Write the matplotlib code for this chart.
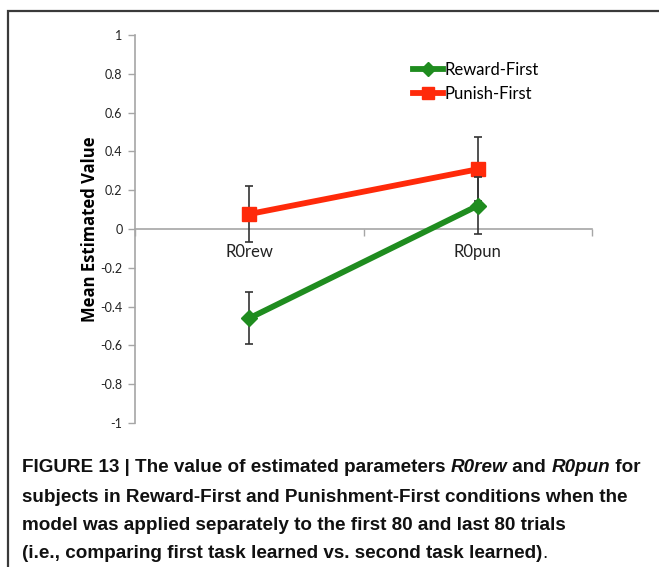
import matplotlib
matplotlib.use("Agg")
import matplotlib.pyplot as plt
from matplotlib.patches import Rectangle
from matplotlib.lines import Line2D

# parameter estimates per condition
categories = ["R0rew", "R0pun"]
reward_first = [-0.46, 0.12]
reward_first_err = [0.135, 0.146]
punish_first = [0.077, 0.308]
punish_first_err = [0.143, 0.165]
yticks = [1, 0.8, 0.6, 0.4, 0.2, 0, -0.2, -0.4, -0.6, -0.8, -1]
ytick_labels = ["1", "0.8", "0.6", "0.4", "0.2", "0", "-0.2", "-0.4", "-0.6", "-0.8", "-1"]

W, H = 659, 567
fig = plt.figure(figsize=(W / 100, H / 100), dpi=100)
ax = fig.add_axes([135 / W, 1 - 423 / H, 457 / W, 388 / H])

x = range(len(categories))
axis_gray = "#a6a6a6"
green, red = "#1f8c1f", "#ff2a0a"
ebar = dict(ecolor="#333333", elinewidth=1.2, capsize=3, capthick=1.2)

ax.errorbar(x, punish_first, yerr=punish_first_err, color=red, lw=4.2,
            marker="s", ms=10, zorder=3, **ebar)
ax.errorbar(x, reward_first, yerr=reward_first_err, color=green, lw=4.2,
            marker="D", ms=8, zorder=4, **ebar)

ax.set_xlim(-0.5, 1.5)
ax.set_ylim(-1, 1)

for s in ("top", "right"):
    ax.spines[s].set_visible(False)
ax.spines["left"].set_color(axis_gray)
ax.spines["left"].set_linewidth(1.2)
ax.spines["bottom"].set_position(("data", 0))
ax.spines["bottom"].set_color(axis_gray)
ax.spines["bottom"].set_linewidth(1.2)

ax.set_yticks(yticks)
ax.set_yticklabels(ytick_labels, fontsize=9, family="Lato", color="#222222")
ax.tick_params(axis="y", direction="out", length=5, width=1, color=axis_gray, pad=4)

ax.set_xticks(list(x))
ax.set_xticklabels(categories, fontsize=12, family="Lato", color="#222222")
ax.set_xticks([-0.5, 0.5, 1.5], minor=True)
ax.tick_params(axis="x", which="major", length=0, pad=11)
ax.tick_params(axis="x", which="minor", direction="out", length=5, width=1, color=axis_gray)

ax.set_ylabel("Mean Estimated Value", fontsize=12, fontweight="bold", family="Open Sans", labelpad=1)

handles = [Line2D([], [], color=green, lw=4.2, marker="D", ms=7),
           Line2D([], [], color=red, lw=4.2, marker="s", ms=8)]
ax.legend(handles, ["Reward-First", "Punish-First"], loc="upper left",
          bbox_to_anchor=(398 / W, 1 - 47 / H), bbox_transform=fig.transFigure,
          frameon=False, handlelength=1.8, handletextpad=0.1, labelspacing=0.5,
          prop=dict(family="Lato", size=12))

# frame round the figure panel
fig.patches.append(Rectangle((8 / W, -0.05), 1.1, 1 - 10.5 / H + 0.05, transform=fig.transFigure,
                             fill=False, edgecolor="#3a3a3a", linewidth=1.6, clip_on=False))

# caption, written piece by piece so the italic names can sit inline
caption = [
    [("FIGURE 13 | The value of estimated parameters ", "normal"), ("R0rew", "italic"),
     (" and ", "normal"), ("R0pun", "italic"), (" for", "normal")],
    [("subjects in Reward-First and Punishment-First conditions when the", "normal")],
    [("model was applied separately to the first 80 and last 80 trials", "normal")],
    [("(i.e., comparing first task learned vs. second task learned)", "normal"), (".", "light")],
]
line_y = [468, 497, 525, 553]
renderer = fig.canvas.get_renderer()
for parts, yy in zip(caption, line_y):
    xx = 22
    for text, style in parts:
        t = fig.text(xx / W, 1 - yy / H, text, fontsize=13.6, family="Liberation Sans",
                     fontweight="normal" if style == "light" else "bold",
                     fontstyle="italic" if style == "italic" else "normal",
                     va="center", ha="left", color="#111111")
        xx += t.get_window_extent(renderer).width

fig.savefig("out.png", dpi=100)
